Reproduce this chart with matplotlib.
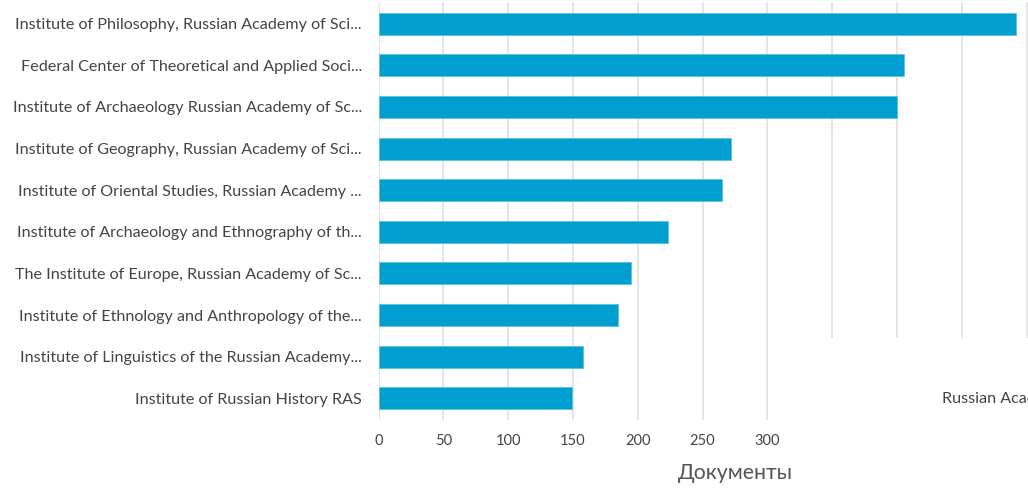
import matplotlib.pyplot as plt
from matplotlib.patches import Rectangle

# Data
orgs = [
    'Institute of Philosophy, Russian Academy of Sci...',
    'Federal Center of Theoretical and Applied Soci...',
    'Institute of Archaeology Russian Academy of Sc...',
    'Institute of Geography, Russian Academy of Sci...',
    'Institute of Oriental Studies, Russian Academy ...',
    'Institute of Archaeology and Ethnography of th...',
    'The Institute of Europe, Russian Academy of Sc...',
    'Institute of Ethnology and Anthropology of the...',
    'Institute of Linguistics of the Russian Academy...',
    'Institute of Russian History RAS',
]
docs = [492, 405, 400, 272, 265, 223, 195, 185, 158, 149]
xticks = [0, 50, 100, 150, 200, 250, 300, 350, 400, 450, 500]
xlab = 'Документы'
extra = 'Russian Academy of Sciences'

plt.rcParams['font.family'] = ['Lato', 'DejaVu Sans']
txt = '#444444'

fig = plt.figure(figsize=(10.28, 4.93), dpi=100)
ax = fig.add_axes([0.3682, 0.148, 0.6318, 0.848])

ax.barh(range(len(orgs)), docs, height=0.53, color='#009fcf',
        edgecolor='#5cc2e3', linewidth=0.6, zorder=3)
ax.set_ylim(len(orgs) - 0.48, -0.52)
ax.set_xlim(0, 501)
ax.set_yticks(range(len(orgs)), orgs, fontsize=11.6, color=txt)
# only the first ticks carry labels, the rest sits under the overlay box
ax.set_xticks(xticks, [str(v) if v <= 300 else '' for v in xticks],
              fontsize=10.5, color=txt)
ax.tick_params(axis='y', length=0, pad=12)
ax.tick_params(axis='x', length=0, pad=10)
ax.grid(axis='x', color='#e3e3e3', lw=1.3, zorder=0)
for s in ax.spines.values():
    s.set_visible(False)
ax.set_xlabel(xlab, fontsize=15.3, color='#555555')
ax.xaxis.set_label_coords(0.549, -0.103)

# overlay box covering the lower right part
fig.add_artist(Rectangle((0.783, 0), 0.3, 0.314, transform=fig.transFigure,
                         facecolor='white', edgecolor='none', zorder=5))
fig.text(0.9163, 0.1907, extra, fontsize=11.6, color=txt, va='center',
         ha='left', zorder=6)

fig.savefig('out.png', dpi=100)
